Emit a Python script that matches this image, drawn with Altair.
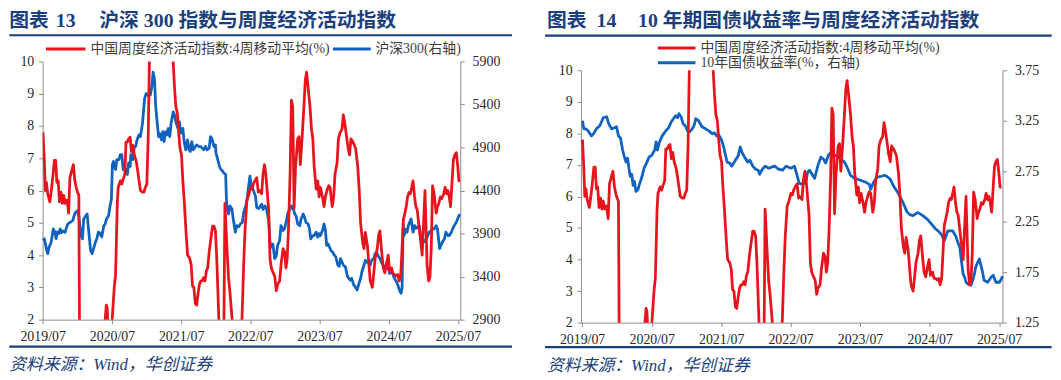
import altair as alt
import pandas as pd

# ---------------- data (decimal year, value) ----------------
# 中国周度经济活动指数:4周移动平均(%)  (same series in both panels; clipped at 2 and 10)
red_series = [
    (2019.50, 7.80), (2019.52, 6.90), (2019.535, 6.00), (2019.55, 6.25), (2019.57, 5.90),
    (2019.60, 5.65), (2019.62, 5.95), (2019.645, 6.50), (2019.665, 6.93), (2019.685, 6.93),
    (2019.70, 6.25), (2019.72, 6.30), (2019.74, 5.65), (2019.76, 5.95), (2019.78, 5.60),
    (2019.80, 5.85), (2019.82, 5.60), (2019.85, 5.70), (2019.87, 5.30), (2019.89, 6.40),
    (2019.915, 6.60), (2019.94, 6.80), (2019.96, 6.30), (2019.98, 6.10), (2020.00, 5.95),
    (2020.02, 5.85), (2020.04, -3.0), (2020.08, -8.0), (2020.14, -9.0), (2020.20, -6.0),
    (2020.26, -3.0), (2020.32, -1.0), (2020.37, 0.5), (2020.40, 2.0), (2020.415, 2.45),
    (2020.43, 2.35), (2020.45, 1.2), (2020.475, 0.5), (2020.50, 2.0), (2020.53, 3.0),
    (2020.55, 3.4), (2020.565, 4.6), (2020.575, 5.6), (2020.59, 6.1), (2020.62, 6.3),
    (2020.64, 6.2), (2020.66, 6.35), (2020.685, 6.5), (2020.70, 7.5), (2020.72, 7.5),
    (2020.74, 7.6), (2020.76, 7.65), (2020.78, 7.2), (2020.80, 7.4), (2020.82, 7.1),
    (2020.85, 6.9), (2020.87, 6.6), (2020.89, 6.3), (2020.91, 6.0), (2020.94, 5.95),
    (2020.96, 5.95), (2020.98, 6.1), (2021.00, 6.2), (2021.02, 7.6), (2021.04, 10.6),
    (2021.08, 14.0), (2021.15, 17.0), (2021.22, 16.0), (2021.30, 13.0), (2021.36, 10.6),
    (2021.38, 10.0), (2021.40, 9.2), (2021.42, 8.6), (2021.44, 8.4), (2021.46, 7.8),
    (2021.48, 7.3), (2021.50, 7.1), (2021.52, 6.3), (2021.54, 5.7), (2021.57, 4.6),
    (2021.59, 4.0), (2021.62, 3.9), (2021.64, 3.7), (2021.66, 3.05), (2021.68, 3.0),
    (2021.70, 2.5), (2021.72, 2.45), (2021.74, 2.8), (2021.76, 3.1), (2021.78, 3.2),
    (2021.80, 3.2), (2021.82, 3.3), (2021.84, 3.2), (2021.86, 3.5), (2021.88, 3.6),
    (2021.90, 4.1), (2021.93, 4.6), (2021.95, 4.9), (2021.97, 4.9), (2021.99, 4.75),
    (2022.01, 3.9), (2022.04, 2.0), (2022.07, 0.0), (2022.10, 0.0), (2022.115, 2.0),
    (2022.13, 5.6), (2022.16, 4.2), (2022.18, 3.3), (2022.20, 2.9), (2022.233, 2.0),
    (2022.27, -1.0), (2022.32, -2.0), (2022.35, 0.0), (2022.376, 2.0), (2022.40, 3.7),
    (2022.42, 4.75), (2022.447, 5.7), (2022.47, 5.85), (2022.50, 6.1), (2022.52, 6.05),
    (2022.54, 6.2), (2022.56, 6.3), (2022.59, 6.4), (2022.61, 5.95), (2022.63, 6.0),
    (2022.66, 5.9), (2022.68, 6.5), (2022.70, 6.8), (2022.72, 6.5), (2022.74, 6.0),
    (2022.76, 5.4), (2022.78, 3.9), (2022.80, 3.6), (2022.83, 3.43), (2022.85, 3.35),
    (2022.87, 2.9), (2022.89, 3.1), (2022.92, 3.2), (2022.94, 3.7), (2022.97, 4.2),
    (2022.99, 4.1), (2023.01, 3.6), (2023.03, 3.9), (2023.05, 4.9), (2023.07, 6.5),
    (2023.09, 8.8), (2023.11, 8.6), (2023.13, 5.45), (2023.15, 6.75), (2023.18, 7.6),
    (2023.20, 7.67), (2023.22, 6.8), (2023.24, 7.5), (2023.27, 8.6), (2023.29, 9.4),
    (2023.31, 9.67), (2023.33, 9.2), (2023.36, 8.6), (2023.38, 7.9), (2023.40, 7.6),
    (2023.42, 6.75), (2023.45, 6.04), (2023.47, 6.3), (2023.49, 5.8), (2023.51, 6.1),
    (2023.54, 5.8), (2023.56, 5.5), (2023.58, 5.8), (2023.61, 6.05), (2023.63, 6.15),
    (2023.65, 6.1), (2023.68, 5.5), (2023.70, 5.8), (2023.72, 6.5), (2023.75, 6.86),
    (2023.77, 7.6), (2023.79, 7.78), (2023.82, 7.9), (2023.84, 8.34), (2023.86, 8.1),
    (2023.88, 7.8), (2023.91, 7.32), (2023.93, 7.1), (2023.95, 7.6), (2023.98, 7.5),
    (2024.00, 7.4), (2024.02, 7.3), (2024.05, 6.75), (2024.07, 6.0), (2024.09, 5.0),
    (2024.12, 4.4), (2024.14, 4.2), (2024.16, 4.7), (2024.19, 4.3), (2024.21, 3.7),
    (2024.23, 3.2), (2024.26, 3.0), (2024.28, 3.4), (2024.30, 3.9), (2024.33, 4.2),
    (2024.35, 4.6), (2024.37, 4.75), (2024.40, 4.0), (2024.42, 3.6), (2024.44, 3.45),
    (2024.47, 3.8), (2024.49, 4.0), (2024.51, 3.5), (2024.54, 3.6), (2024.56, 3.4),
    (2024.58, 3.4), (2024.61, 3.35), (2024.63, 3.4), (2024.65, 3.2), (2024.67, 3.4),
    (2024.69, 4.2), (2024.71, 5.1), (2024.73, 5.3), (2024.75, 5.5), (2024.77, 5.8),
    (2024.79, 5.94), (2024.81, 5.9), (2024.83, 6.1), (2024.85, 6.3), (2024.87, 5.8),
    (2024.89, 5.5), (2024.91, 5.4), (2024.94, 4.8), (2024.96, 4.4), (2024.98, 4.0),
    (2025.02, 6.0), (2025.05, 3.7), (2025.07, 3.2), (2025.09, 3.3), (2025.11, 4.2),
    (2025.13, 6.14), (2025.15, 5.9), (2025.18, 5.3), (2025.20, 5.5), (2025.22, 5.6),
    (2025.24, 5.8), (2025.26, 5.75), (2025.29, 5.9), (2025.31, 6.1), (2025.33, 5.9),
    (2025.35, 6.0), (2025.37, 5.8), (2025.39, 5.5), (2025.41, 6.3), (2025.43, 6.96),
    (2025.45, 7.1), (2025.47, 7.17), (2025.49, 6.8), (2025.51, 6.3), (2025.53, 6.3),
]

# 沪深300(右轴)
hs300_series = [
    (2019.50, 3819), (2019.52, 3839), (2019.55, 3720), (2019.57, 3667), (2019.59, 3740),
    (2019.62, 3800), (2019.65, 3954), (2019.67, 3920), (2019.69, 3839), (2019.71, 3920),
    (2019.73, 3900), (2019.75, 3954), (2019.77, 3910), (2019.79, 3930), (2019.82, 3916),
    (2019.84, 3973), (2019.86, 4011), (2019.89, 4030), (2019.93, 4050), (2019.95, 4108),
    (2019.97, 4146), (2020.00, 4165), (2020.02, 4110), (2020.05, 3877), (2020.07, 3839),
    (2020.09, 4070), (2020.12, 4108), (2020.14, 4127), (2020.16, 3954), (2020.19, 3705),
    (2020.21, 3667), (2020.23, 3720), (2020.26, 3801), (2020.28, 3840), (2020.30, 3916),
    (2020.32, 3910), (2020.35, 3860), (2020.38, 3992), (2020.40, 4011), (2020.42, 4070),
    (2020.45, 4108), (2020.47, 4222), (2020.49, 4299), (2020.505, 4700), (2020.52, 4739),
    (2020.53, 4680), (2020.55, 4644), (2020.57, 4760), (2020.60, 4760), (2020.62, 4816),
    (2020.64, 4816), (2020.66, 4644), (2020.68, 4660), (2020.70, 4644), (2020.72, 4586),
    (2020.74, 4720), (2020.76, 4680), (2020.77, 4816), (2020.80, 4760), (2020.82, 4911),
    (2020.84, 4911), (2020.86, 4988), (2020.89, 5046), (2020.91, 5026), (2020.94, 5180),
    (2020.97, 5468), (2020.99, 5526), (2021.02, 5507), (2021.05, 5507), (2021.07, 5601),
    (2021.09, 5774), (2021.11, 5700), (2021.13, 5371), (2021.15, 5180), (2021.17, 5026),
    (2021.19, 5060), (2021.21, 4988), (2021.23, 5084), (2021.25, 4969), (2021.27, 5084),
    (2021.29, 5046), (2021.31, 5120), (2021.33, 5026), (2021.35, 5180), (2021.38, 5314),
    (2021.40, 5280), (2021.42, 5199), (2021.45, 5122), (2021.47, 5199), (2021.49, 5066),
    (2021.52, 5122), (2021.54, 4969), (2021.56, 4873), (2021.59, 4988), (2021.61, 4873),
    (2021.63, 4854), (2021.65, 4969), (2021.67, 4873), (2021.70, 4911), (2021.72, 4930),
    (2021.75, 4911), (2021.78, 4911), (2021.80, 4892), (2021.82, 4873), (2021.85, 4911),
    (2021.87, 4873), (2021.90, 4892), (2021.92, 5026), (2021.94, 5007), (2021.97, 4911),
    (2021.99, 4930), (2022.00, 4835), (2022.02, 4778), (2022.05, 4682), (2022.07, 4644),
    (2022.09, 4630), (2022.11, 4606), (2022.14, 4586), (2022.15, 4300), (2022.16, 4203),
    (2022.18, 4127), (2022.20, 4222), (2022.23, 4184), (2022.25, 4069), (2022.28, 3916),
    (2022.30, 3992), (2022.33, 3980), (2022.35, 4011), (2022.38, 4030), (2022.40, 4146),
    (2022.43, 4222), (2022.45, 4299), (2022.46, 4375), (2022.47, 4452), (2022.49, 4567),
    (2022.51, 4460), (2022.53, 4420), (2022.57, 4337), (2022.59, 4203), (2022.62, 4190),
    (2022.66, 4241), (2022.68, 4180), (2022.71, 4222), (2022.73, 4184), (2022.76, 4050),
    (2022.78, 3801), (2022.80, 3743), (2022.82, 3780), (2022.85, 3609), (2022.87, 3640),
    (2022.89, 3762), (2022.92, 3820), (2022.94, 3992), (2022.97, 3935), (2022.99, 3960),
    (2023.02, 4050), (2023.04, 4146), (2023.07, 4184), (2023.09, 4222), (2023.12, 4180),
    (2023.14, 4127), (2023.16, 4100), (2023.18, 4011), (2023.21, 3990), (2023.23, 4070),
    (2023.26, 4127), (2023.28, 4090), (2023.30, 4030), (2023.33, 4011), (2023.35, 3960),
    (2023.37, 3839), (2023.40, 3877), (2023.42, 3877), (2023.45, 3916), (2023.47, 3858),
    (2023.49, 3900), (2023.51, 3877), (2023.54, 3935), (2023.56, 4011), (2023.58, 3950),
    (2023.60, 3762), (2023.62, 3780), (2023.64, 3743), (2023.66, 3705), (2023.69, 3680),
    (2023.71, 3650), (2023.73, 3628), (2023.76, 3532), (2023.78, 3520), (2023.80, 3609),
    (2023.82, 3570), (2023.84, 3532), (2023.87, 3513), (2023.90, 3399), (2023.92, 3380),
    (2023.94, 3360), (2023.96, 3380), (2023.99, 3302), (2024.01, 3285), (2024.04, 3245),
    (2024.06, 3302), (2024.09, 3379), (2024.11, 3456), (2024.14, 3532), (2024.16, 3590),
    (2024.18, 3570), (2024.21, 3551), (2024.23, 3532), (2024.25, 3590), (2024.28, 3609),
    (2024.30, 3666), (2024.32, 3686), (2024.34, 3650), (2024.37, 3609), (2024.39, 3570),
    (2024.42, 3532), (2024.44, 3500), (2024.47, 3494), (2024.49, 3510), (2024.51, 3436),
    (2024.54, 3470), (2024.56, 3417), (2024.58, 3379), (2024.61, 3340), (2024.63, 3300),
    (2024.66, 3226), (2024.675, 3206), (2024.69, 3264), (2024.705, 4011), (2024.72, 3877),
    (2024.74, 3950), (2024.76, 3916), (2024.78, 3992), (2024.80, 4030), (2024.82, 4070),
    (2024.84, 3954), (2024.85, 3916), (2024.87, 3992), (2024.89, 3960), (2024.94, 3992),
    (2024.96, 3858), (2025.00, 3801), (2025.02, 3820), (2025.04, 3839), (2025.06, 3877),
    (2025.08, 3916), (2025.11, 3935), (2025.13, 3954), (2025.15, 3954), (2025.18, 3992),
    (2025.20, 3950), (2025.23, 3724), (2025.25, 3762), (2025.27, 3801), (2025.30, 3839),
    (2025.32, 3916), (2025.35, 3877), (2025.37, 3877), (2025.40, 3916), (2025.42, 3954),
    (2025.44, 3992), (2025.47, 4030), (2025.49, 4070), (2025.52, 4127),
]

# 10年国债收益率(%，右轴)
yield10_series = [
    (2019.50, 3.25), (2019.52, 3.17), (2019.55, 3.17), (2019.58, 3.15), (2019.63, 3.10),
    (2019.66, 3.12), (2019.70, 3.17), (2019.75, 3.20), (2019.80, 3.28), (2019.85, 3.29),
    (2019.88, 3.22), (2019.92, 3.17), (2019.96, 3.18), (2019.99, 3.19), (2020.02, 3.10),
    (2020.05, 3.08), (2020.08, 2.96), (2020.10, 2.90), (2020.13, 2.84), (2020.15, 2.88),
    (2020.17, 2.78), (2020.19, 2.70), (2020.21, 2.72), (2020.23, 2.61), (2020.25, 2.65),
    (2020.27, 2.55), (2020.30, 2.57), (2020.32, 2.62), (2020.35, 2.68), (2020.39, 2.78),
    (2020.43, 2.84), (2020.46, 2.89), (2020.50, 2.91), (2020.54, 2.96), (2020.56, 3.04),
    (2020.58, 2.96), (2020.61, 3.04), (2020.65, 3.10), (2020.70, 3.15), (2020.74, 3.18),
    (2020.78, 3.24), (2020.81, 3.27), (2020.84, 3.30), (2020.87, 3.28), (2020.89, 3.32),
    (2020.92, 3.29), (2020.95, 3.22), (2020.98, 3.20), (2021.01, 3.15), (2021.04, 3.14),
    (2021.08, 3.17), (2021.11, 3.21), (2021.13, 3.27), (2021.17, 3.25), (2021.22, 3.19),
    (2021.27, 3.17), (2021.32, 3.15), (2021.37, 3.12), (2021.40, 3.13), (2021.43, 3.10),
    (2021.46, 3.11), (2021.50, 3.06), (2021.53, 2.99), (2021.56, 2.90), (2021.58, 2.84),
    (2021.62, 2.83), (2021.65, 2.80), (2021.70, 2.86), (2021.74, 2.90), (2021.77, 2.99),
    (2021.80, 2.93), (2021.84, 2.88), (2021.88, 2.84), (2021.91, 2.86), (2021.95, 2.80),
    (2021.99, 2.77), (2022.03, 2.76), (2022.05, 2.72), (2022.09, 2.77), (2022.13, 2.80),
    (2022.18, 2.78), (2022.22, 2.79), (2022.27, 2.80), (2022.32, 2.77), (2022.38, 2.76),
    (2022.43, 2.80), (2022.50, 2.78), (2022.55, 2.80), (2022.58, 2.73), (2022.62, 2.63),
    (2022.68, 2.62), (2022.72, 2.66), (2022.74, 2.74), (2022.77, 2.76), (2022.82, 2.70),
    (2022.84, 2.68), (2022.89, 2.81), (2022.93, 2.89), (2022.97, 2.87), (2023.00, 2.83),
    (2023.04, 2.91), (2023.07, 2.93), (2023.12, 2.91), (2023.17, 2.90), (2023.22, 2.87),
    (2023.27, 2.84), (2023.31, 2.79), (2023.36, 2.71), (2023.42, 2.68), (2023.50, 2.66),
    (2023.58, 2.64), (2023.63, 2.62), (2023.65, 2.57), (2023.69, 2.64), (2023.74, 2.69),
    (2023.80, 2.70), (2023.85, 2.71), (2023.88, 2.70), (2023.93, 2.67), (2023.98, 2.60),
    (2024.03, 2.55), (2024.07, 2.50), (2024.12, 2.43), (2024.17, 2.35), (2024.21, 2.32),
    (2024.26, 2.31), (2024.30, 2.33), (2024.33, 2.34), (2024.40, 2.31), (2024.47, 2.27),
    (2024.53, 2.22), (2024.58, 2.18), (2024.62, 2.16), (2024.67, 2.12), (2024.71, 2.06),
    (2024.74, 2.12), (2024.76, 2.16), (2024.83, 2.16), (2024.88, 2.10), (2024.90, 2.05),
    (2024.93, 2.00), (2024.95, 1.89), (2024.98, 1.73), (2025.00, 1.70), (2025.02, 1.65),
    (2025.05, 1.63), (2025.09, 1.62), (2025.12, 1.68), (2025.14, 1.73), (2025.16, 1.80),
    (2025.19, 1.85), (2025.21, 1.88), (2025.24, 1.80), (2025.26, 1.74), (2025.28, 1.67),
    (2025.33, 1.65), (2025.38, 1.70), (2025.41, 1.72), (2025.45, 1.65), (2025.50, 1.65),
    (2025.525, 1.68), (2025.545, 1.71),
]

x_tick_labels = ["2019/07", "2020/07", "2021/07", "2022/07", "2023/07", "2024/07", "2025/07"]
left_ticks = [2, 3, 4, 5, 6, 7, 8, 9, 10]
hs300_ticks = [2900, 3400, 3900, 4400, 4900, 5400, 5900]
yield_ticks = [1.25, 1.75, 2.25, 2.75, 3.25, 3.75]

# ---------------- style ----------------
RED = "#E8141C"
BLUE = "#0F63BE"
NAVY = "#1B3F7C"
GRAY = "#8C8C8C"
LABEL = "#262626"
LEG = "#3C3C3C"
SERIF_CJK = "Liberation Serif, Noto Sans CJK SC"


def to_date(t):
    y = int(t)
    return pd.Timestamp(year=y, month=1, day=1) + pd.Timedelta(days=round((t - y) * 365.25))


def frame(series):
    return pd.DataFrame({"date": [to_date(t) for t, _ in series], "v": [v for _, v in series]})


red_df = frame(red_series)
hs_df = frame(hs300_series)
yld_df = frame(yield10_series)

x_values = [alt.DateTime(year=int(s[:4]), month=int(s[5:]), date=1) for s in x_tick_labels]
anchor = pd.DataFrame({"k": [0]})


def ax(**kw):
    base = dict(labelFont="Liberation Serif", labelFontSize=14, labelColor=LABEL,
                domainColor=GRAY, tickColor=GRAY, tickSize=4, grid=False, title=None,
                labelFlush=False, labelOverlap=False)
    base.update(kw)
    return alt.Axis(**base)


def text(txt, x, y, size, color, weight="normal", style="normal"):
    return alt.Chart(anchor).mark_text(
        text=txt, align="left", baseline="middle", fontSize=size, color=color,
        fontWeight=weight, fontStyle=style, font=SERIF_CJK,
    ).encode(x=alt.value(x), y=alt.value(y))


def hrule(x1, x2, y, color, width):
    return alt.Chart(anchor).mark_rule(color=color, strokeWidth=width).encode(
        x=alt.value(x1), x2=alt.value(x2), y=alt.value(y))


def spacer():
    # invisible 1px strip so that each panel is laid out below it by its own bounds
    return alt.Chart(anchor).mark_rule(opacity=0).encode(
        x=alt.value(0), x2=alt.value(1), y=alt.value(0)).properties(width=1, height=1)


def panel(blue_df, blue_dom, blue_ticks, blue_fmt, xdom, w, h, decor):
    xs = alt.Scale(domain=xdom)
    x_axis = ax(values=x_values, format="%Y/%m", labelPadding=6)
    blue = alt.Chart(blue_df).mark_line(color=BLUE, strokeWidth=2.8, strokeJoin="round").encode(
        x=alt.X("date:T", scale=xs, axis=x_axis),
        y=alt.Y("v:Q", scale=alt.Scale(domain=blue_dom, nice=False, zero=False),
                axis=ax(orient="right", values=blue_ticks, format=blue_fmt, labelPadding=8)),
    )
    red = alt.Chart(red_df).mark_line(color=RED, strokeWidth=2.8, strokeJoin="round", clip=True).encode(
        x=alt.X("date:T", scale=xs, axis=x_axis),
        y=alt.Y("v:Q", scale=alt.Scale(domain=[2, 10], nice=False, zero=False),
                axis=ax(orient="left", values=left_ticks, format="d", labelPadding=5)),
    )
    layered = alt.layer(blue, red, *decor).resolve_scale(y="independent").properties(width=w, height=h)
    return alt.vconcat(spacer(), layered, spacing=0)


# ----- left panel (plot origin at page 41.7, 60.7) -----
left_decor = [
    hrule(-33.7, 474.3, -26.4, NAVY, 2.2),
    text("图表", -33.7, -40.7, 20, NAVY, "bold"),
    text("13", 13.3, -40.7, 20, NAVY, "bold"),
    text("沪深 300 指数与周度经济活动指数", 57.3, -40.7, 20, NAVY, "bold"),
    hrule(3.3, 43.3, -12.4, RED, 3),
    text("中国周度经济活动指数:4周移动平均(%)", 48.3, -12.4, 14, LEG),
    hrule(293.3, 331.6, -12.4, BLUE, 3),
    text("沪深300(右轴)", 336.3, -12.4, 14, LEG),
    hrule(-33.7, 474.3, 288.3, NAVY, 2.2),
    text("资料来源：Wind，华创证券", -33.7, 307.3, 17, NAVY, "normal", "italic"),
]
left = panel(hs_df, [2900, 5900], hs300_ticks, "d",
             [alt.DateTime(year=2019, month=7, date=1), alt.DateTime(year=2025, month=7, date=13)],
             422, 261, left_decor)

# ----- right panel (plot origin at page 582.3, 69.3) -----
right_decor = [
    hrule(-36.3, 475.7, -35.0, NAVY, 2.2),
    text("图表", -34.3, -49.3, 20, NAVY, "bold"),
    text("14", 15.7, -49.3, 20, NAVY, "bold"),
    text("10 年期国债收益率与周度经济活动指数", 57.7, -49.3, 20, NAVY, "bold"),
    hrule(77.7, 115.7, -22.6, RED, 3),
    text("中国周度经济活动指数:4周移动平均(%)", 120.7, -22.6, 14, LEG),
    hrule(77.7, 115.7, -7.6, BLUE, 3),
    text("10年国债收益率(%，右轴)", 120.7, -7.6, 14, LEG),
    hrule(-36.3, 475.7, 279.7, NAVY, 2.2),
    text("资料来源：Wind，华创证券", -34.3, 298.7, 17, NAVY, "normal", "italic"),
]
right = panel(yld_df, [1.25, 3.75], yield_ticks, ".2f",
              [alt.DateTime(year=2019, month=6, date=25), alt.DateTime(year=2025, month=7, date=19)],
              426, 255, right_decor)

chart = alt.hconcat(left, right, spacing=30).configure_view(stroke=None).properties(
    padding={"left": 0, "top": 0, "right": 0, "bottom": 0})

chart.save("out.html", embed_options={"renderer": "svg", "actions": False})
